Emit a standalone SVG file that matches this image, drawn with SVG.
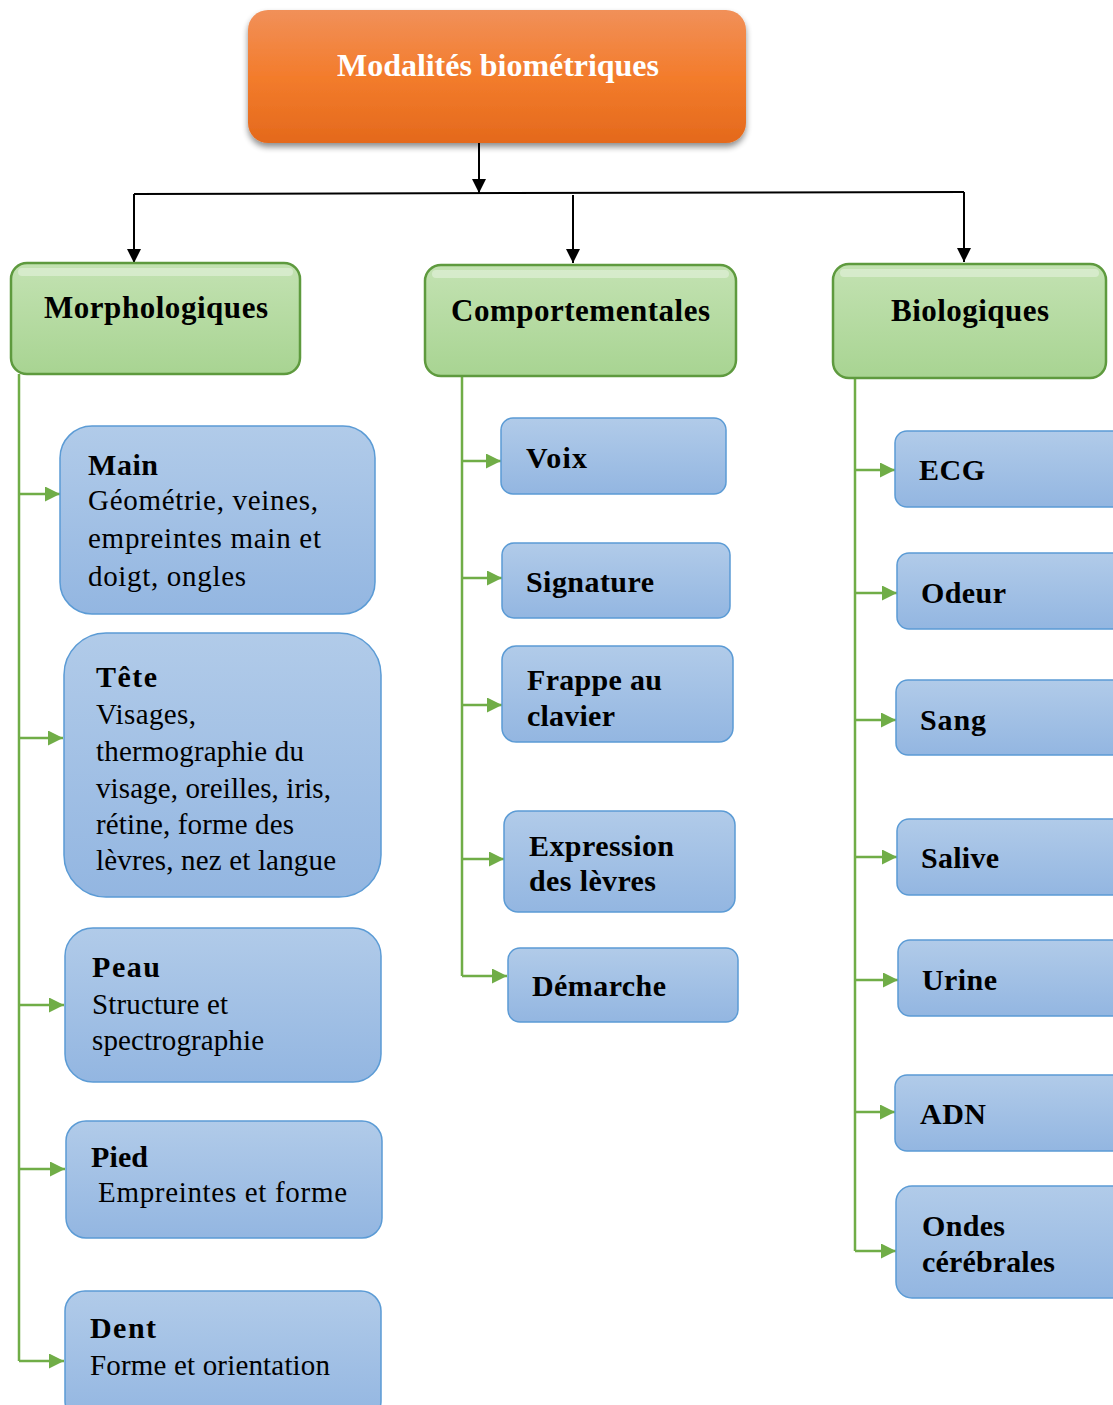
<svg xmlns="http://www.w3.org/2000/svg" width="1113" height="1405" viewBox="0 0 1113 1405">
<style>
text{lengthAdjust:spacingAndGlyphs}
.title{font-family:"Liberation Serif",serif;font-weight:bold;font-size:32px;fill:#fff}
.cat{font-family:"Liberation Serif",serif;font-weight:bold;font-size:31px;fill:#000}
.hd{font-family:"Liberation Serif",serif;font-weight:bold;font-size:30px;fill:#000}
.bd{font-family:"Liberation Serif",serif;font-size:29px;fill:#000}
.blue{fill:url(#gBlue);stroke:#5B9BD5;stroke-width:1.5}
.green{fill:url(#gGreen);stroke:#5E9A3E;stroke-width:2.5}
.blk{stroke:#000;stroke-width:2;fill:none}
.grn{stroke:#70AD47;stroke-width:2.5;fill:none}
</style>
<defs>
<linearGradient id="gOrange" x1="0" y1="0" x2="0" y2="1">
<stop offset="0" stop-color="#F19059"/><stop offset="0.5" stop-color="#F37C2C"/><stop offset="1" stop-color="#E4691C"/>
</linearGradient>
<linearGradient id="gGreen" x1="0" y1="0" x2="0" y2="1">
<stop offset="0" stop-color="#C3E2B2"/><stop offset="1" stop-color="#A8D492"/>
</linearGradient>
<linearGradient id="gBlue" x1="0" y1="0" x2="0" y2="1">
<stop offset="0" stop-color="#B1CBE9"/><stop offset="1" stop-color="#93B6E1"/>
</linearGradient>
<filter id="shadow" x="-10%" y="-10%" width="120%" height="130%">
<feGaussianBlur in="SourceAlpha" stdDeviation="3"/>
<feOffset dx="0" dy="4"/>
<feComponentTransfer><feFuncA type="linear" slope="0.45"/></feComponentTransfer>
<feMerge><feMergeNode/><feMergeNode in="SourceGraphic"/></feMerge>
</filter>
<marker id="aBlk" viewBox="0 0 10 10" refX="10" refY="5" markerWidth="14" markerHeight="14" markerUnits="userSpaceOnUse" orient="auto">
<path d="M0,0 L10,5 L0,10 Z" fill="#000"/>
</marker>
<marker id="aGrn" viewBox="0 0 10 10" refX="10" refY="5" markerWidth="15" markerHeight="15" markerUnits="userSpaceOnUse" orient="auto">
<path d="M0,0 L10,5 L0,10 Z" fill="#70AD47"/>
</marker>
</defs>
<rect width="1113" height="1405" fill="#fff"/>

<g id="connectors">
<line class="blk" x1="479" y1="143" x2="479" y2="193" marker-end="url(#aBlk)"/>
<line class="blk" x1="134" y1="194" x2="964" y2="192"/>
<line class="blk" x1="134" y1="194" x2="134" y2="263" marker-end="url(#aBlk)"/>
<line class="blk" x1="573" y1="195" x2="573" y2="263" marker-end="url(#aBlk)"/>
<line class="blk" x1="964" y1="192" x2="964" y2="262" marker-end="url(#aBlk)"/>

<polyline class="grn" points="19,374 19,1361"/>
<line class="grn" x1="19" y1="494" x2="60" y2="494" marker-end="url(#aGrn)"/>
<line class="grn" x1="19" y1="738" x2="63" y2="738" marker-end="url(#aGrn)"/>
<line class="grn" x1="19" y1="1005" x2="64" y2="1005" marker-end="url(#aGrn)"/>
<line class="grn" x1="19" y1="1169" x2="65" y2="1169" marker-end="url(#aGrn)"/>
<line class="grn" x1="19" y1="1361" x2="64" y2="1361" marker-end="url(#aGrn)"/>

<polyline class="grn" points="462,376 462,976"/>
<line class="grn" x1="462" y1="461" x2="501" y2="461" marker-end="url(#aGrn)"/>
<line class="grn" x1="462" y1="578" x2="502" y2="578" marker-end="url(#aGrn)"/>
<line class="grn" x1="462" y1="705" x2="502" y2="705" marker-end="url(#aGrn)"/>
<line class="grn" x1="462" y1="859" x2="504" y2="859" marker-end="url(#aGrn)"/>
<line class="grn" x1="462" y1="976" x2="507" y2="976" marker-end="url(#aGrn)"/>

<polyline class="grn" points="855,378 855,1251"/>
<line class="grn" x1="855" y1="470" x2="895" y2="470" marker-end="url(#aGrn)"/>
<line class="grn" x1="855" y1="593" x2="897" y2="593" marker-end="url(#aGrn)"/>
<line class="grn" x1="855" y1="720" x2="896" y2="720" marker-end="url(#aGrn)"/>
<line class="grn" x1="855" y1="857" x2="897" y2="857" marker-end="url(#aGrn)"/>
<line class="grn" x1="855" y1="980" x2="898" y2="980" marker-end="url(#aGrn)"/>
<line class="grn" x1="855" y1="1112" x2="895" y2="1112" marker-end="url(#aGrn)"/>
<line class="grn" x1="855" y1="1251" x2="896" y2="1251" marker-end="url(#aGrn)"/>
</g>

<g id="root">
<rect x="248" y="10" width="498" height="133" rx="20" fill="url(#gOrange)" filter="url(#shadow)"/>
<text class="title" x="337" y="76" textLength="322">Modalités biométriques</text>
</g>

<g id="morphologiques">
<rect class="green" x="11" y="263" width="289" height="111" rx="16"/>
<rect x="18" y="268" width="275" height="8" rx="4" fill="#fff" opacity="0.35"/>
<text class="cat" x="44" y="318" textLength="224">Morphologiques</text>
</g>
<g id="comportementales">
<rect class="green" x="425" y="265" width="311" height="111" rx="16"/>
<rect x="432" y="270" width="297" height="8" rx="4" fill="#fff" opacity="0.35"/>
<text class="cat" x="451" y="321" textLength="259">Comportementales</text>
</g>
<g id="biologiques">
<rect class="green" x="833" y="264" width="273" height="114" rx="16"/>
<rect x="840" y="269" width="259" height="8" rx="4" fill="#fff" opacity="0.35"/>
<text class="cat" x="891" y="321" textLength="158">Biologiques</text>
</g>

<g id="main">
<rect class="blue" x="60" y="426" width="315" height="188" rx="32"/>
<text class="hd" x="88" y="475" textLength="70">Main</text>
<text class="bd" x="88" y="510" textLength="230">Géométrie, veines,</text>
<text class="bd" x="88" y="548" textLength="233">empreintes main et</text>
<text class="bd" x="88" y="586" textLength="158">doigt, ongles</text>
</g>
<g id="tete">
<rect class="blue" x="64" y="633" width="317" height="264" rx="42"/>
<text class="hd" x="96" y="687" textLength="61">Tête</text>
<text class="bd" x="96" y="724" textLength="100">Visages,</text>
<text class="bd" x="96" y="761" textLength="208">thermographie du</text>
<text class="bd" x="96" y="798" textLength="235">visage, oreilles, iris,</text>
<text class="bd" x="96" y="834" textLength="198">rétine, forme des</text>
<text class="bd" x="96" y="870" textLength="240">lèvres, nez et langue</text>
</g>
<g id="peau">
<rect class="blue" x="65" y="928" width="316" height="154" rx="28"/>
<text class="hd" x="92" y="977" textLength="68">Peau</text>
<text class="bd" x="92" y="1014" textLength="136">Structure et</text>
<text class="bd" x="92" y="1050" textLength="172">spectrographie</text>
</g>
<g id="pied">
<rect class="blue" x="66" y="1121" width="316" height="117" rx="20"/>
<text class="hd" x="91" y="1167" textLength="57">Pied</text>
<text class="bd" x="98" y="1202" textLength="249">Empreintes et forme</text>
</g>
<g id="dent">
<rect class="blue" x="65" y="1291" width="316" height="130" rx="20"/>
<text class="hd" x="90" y="1338" textLength="66">Dent</text>
<text class="bd" x="90" y="1375" textLength="240">Forme et orientation</text>
</g>

<g id="voix">
<rect class="blue" x="501" y="418" width="225" height="76" rx="12"/>
<text class="hd" x="526" y="468" textLength="61">Voix</text>
</g>
<g id="signature">
<rect class="blue" x="502" y="543" width="228" height="75" rx="12"/>
<text class="hd" x="526" y="592" textLength="128">Signature</text>
</g>
<g id="frappe">
<rect class="blue" x="502" y="646" width="231" height="96" rx="14"/>
<text class="hd" x="527" y="690" textLength="135">Frappe au</text>
<text class="hd" x="527" y="726" textLength="88">clavier</text>
</g>
<g id="expression">
<rect class="blue" x="504" y="811" width="231" height="101" rx="14"/>
<text class="hd" x="529" y="856" textLength="145">Expression</text>
<text class="hd" x="529" y="891" textLength="127">des lèvres</text>
</g>
<g id="demarche">
<rect class="blue" x="508" y="948" width="230" height="74" rx="12"/>
<text class="hd" x="532" y="996" textLength="134">Démarche</text>
</g>

<g id="ecg">
<rect class="blue" x="895" y="431" width="235" height="76" rx="12"/>
<text class="hd" x="919" y="480" textLength="66">ECG</text>
</g>
<g id="odeur">
<rect class="blue" x="897" y="553" width="235" height="76" rx="12"/>
<text class="hd" x="921" y="603" textLength="85">Odeur</text>
</g>
<g id="sang">
<rect class="blue" x="896" y="680" width="235" height="75" rx="12"/>
<text class="hd" x="920" y="730" textLength="66">Sang</text>
</g>
<g id="salive">
<rect class="blue" x="897" y="819" width="235" height="76" rx="12"/>
<text class="hd" x="921" y="868" textLength="78">Salive</text>
</g>
<g id="urine">
<rect class="blue" x="898" y="940" width="235" height="76" rx="12"/>
<text class="hd" x="922" y="990" textLength="75">Urine</text>
</g>
<g id="adn">
<rect class="blue" x="895" y="1075" width="235" height="76" rx="12"/>
<text class="hd" x="920" y="1124" textLength="66">ADN</text>
</g>
<g id="ondes">
<rect class="blue" x="896" y="1186" width="235" height="112" rx="16"/>
<text class="hd" x="922" y="1236" textLength="83">Ondes</text>
<text class="hd" x="922" y="1272" textLength="133">cérébrales</text>
</g>
</svg>
